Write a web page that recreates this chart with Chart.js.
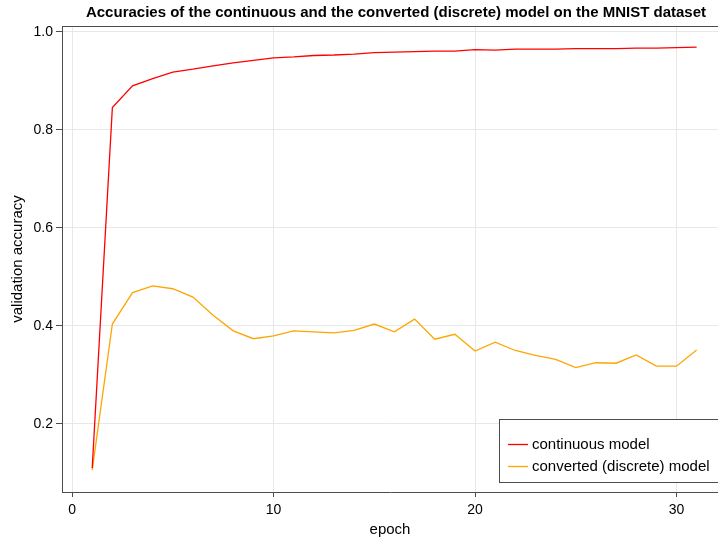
<!DOCTYPE html>
<html>
<head>
<meta charset="utf-8">
<script src="https://cdn.jsdelivr.net/npm/chart.js@4.4.1/dist/chart.umd.min.js"></script>
<style>
  html, body { margin: 0; padding: 0; background: #fff; }
  #wrap { width: 718px; height: 538px; position: relative; }
</style>
</head>
<body>
<div id="wrap"><canvas id="myChart"></canvas></div>
<script>
// epochs 1..31
const epochs = [1, 2, 3, 4, 5, 6, 7, 8, 9, 10, 11, 12, 13, 14, 15, 16,
  17, 18, 19, 20, 21, 22, 23, 24, 25, 26, 27, 28, 29, 30, 31];

// validation accuracy of the continuous model
const continuousAcc = [0.110, 0.846, 0.890, 0.905, 0.918, 0.924, 0.931, 0.937, 0.942, 0.947,
  0.949, 0.952, 0.953, 0.955, 0.958, 0.959, 0.960, 0.961, 0.961, 0.964,
  0.963, 0.965, 0.965, 0.965, 0.966, 0.966, 0.966, 0.967, 0.967, 0.968, 0.969];

// validation accuracy of the converted (discrete) model
const discreteAcc = [0.106, 0.404, 0.468, 0.482, 0.476, 0.459, 0.422, 0.390, 0.374, 0.380,
  0.390, 0.388, 0.386, 0.391, 0.404, 0.388, 0.414, 0.373, 0.383, 0.349,
  0.367, 0.350, 0.340, 0.332, 0.315, 0.325, 0.324, 0.341, 0.318, 0.318, 0.351];

const seriesNames = ['continuous model', 'converted (discrete) model'];
const xTicks = [0, 10, 20, 30];
const yTicks = [0.2, 0.4, 0.6, 0.8, 1.0];

const titleText = 'Accuracies of the continuous and the converted (discrete) model on the MNIST dataset';
const fontFamily = '"Liberation Sans", Arial, Helvetica, sans-serif';
const frameColor = '#4d4d4d';
const gridColor = '#e8e8e8';

const toPoints = (ys) => epochs.map((e, i) => ({ x: e, y: ys[i] }));

// title, top frame line and legend box, drawn on top of the chart
const extras = {
  id: 'extras',
  afterDraw(chart) {
    const ctx = chart.ctx;
    const area = chart.chartArea;
    ctx.save();
    // title
    ctx.fillStyle = '#000';
    ctx.font = 'bold 15px ' + fontFamily;
    ctx.textAlign = 'center';
    ctx.textBaseline = 'middle';
    ctx.fillText(titleText, 396, 13);

    // top frame line
    ctx.strokeStyle = frameColor;
    ctx.lineWidth = 1;
    ctx.beginPath();
    ctx.moveTo(area.left, area.top + 0.5);
    ctx.lineTo(area.right, area.top + 0.5);
    ctx.stroke();

    // legend
    const bx = 499.5, by = 419.5, bw = 230, bh = 63;
    ctx.fillStyle = '#fff';
    ctx.fillRect(bx, by, bw, bh);
    ctx.strokeStyle = frameColor;
    ctx.strokeRect(bx, by, bw, bh);
    ctx.font = '15px ' + fontFamily;
    ctx.textAlign = 'left';
    chart.data.datasets.forEach((ds, i) => {
      const ly = 444.5 + i * 22;
      ctx.strokeStyle = ds.borderColor;
      ctx.lineWidth = 1.3;
      ctx.beginPath();
      ctx.moveTo(508, ly);
      ctx.lineTo(528, ly);
      ctx.stroke();
      ctx.fillStyle = '#000';
      ctx.fillText(ds.label, 532, ly);
    });
    ctx.restore();
  }
};

const data = {
  datasets: [
    {
      label: seriesNames[0],
      data: toPoints(continuousAcc),
      borderColor: '#ff0000',
      borderWidth: 1.3,
      pointRadius: 0,
      tension: 0,
    },
    {
      label: seriesNames[1],
      data: toPoints(discreteAcc),
      borderColor: '#ffa500',
      borderWidth: 1.3,
      pointRadius: 0,
      tension: 0,
    },
  ],
};

const options = {
  responsive: false,
  animation: false,
  layout: { padding: { top: 26, right: 0, bottom: 0, left: 0 } },
  plugins: {
    legend: { display: false },
    title: { display: false },
    tooltip: { enabled: false },
  },
  scales: {
    x: {
      type: 'linear',
      min: -0.5,
      max: 32.06,
      afterFit: (scale) => { scale.height = 46; },
      afterBuildTicks: (scale) => { scale.ticks = xTicks.map(v => ({ value: v })); },
      ticks: { font: { size: 14, family: fontFamily }, color: '#000', padding: 5, maxRotation: 0 },
      grid: { color: gridColor, tickColor: frameColor, tickLength: 5 },
      border: { color: frameColor, width: 1 },
      title: { display: true, text: 'epoch', font: { size: 15, family: fontFamily }, color: '#000', padding: { top: 0, bottom: -1 } },
    },
    y: {
      type: 'linear',
      min: 0.0612,
      max: 1.0122,
      afterFit: (scale) => { scale.width = 62; },
      afterBuildTicks: (scale) => { scale.ticks = yTicks.map(v => ({ value: v })); },
      ticks: { font: { size: 14, family: fontFamily }, color: '#000', padding: 3, callback: (v) => v.toFixed(1) },
      grid: { color: gridColor, tickColor: frameColor, tickLength: 6 },
      border: { color: frameColor, width: 1 },
      title: { display: true, text: 'validation accuracy', font: { size: 15, family: fontFamily }, color: '#000', padding: { top: 9, bottom: 0 } },
    },
  },
};

const canvas = document.getElementById('myChart');
canvas.width = 718;
canvas.height = 538;
new Chart(canvas.getContext('2d'), {
  type: 'line',
  data: data,
  options: options,
  plugins: [extras],
});
</script>
</body>
</html>
